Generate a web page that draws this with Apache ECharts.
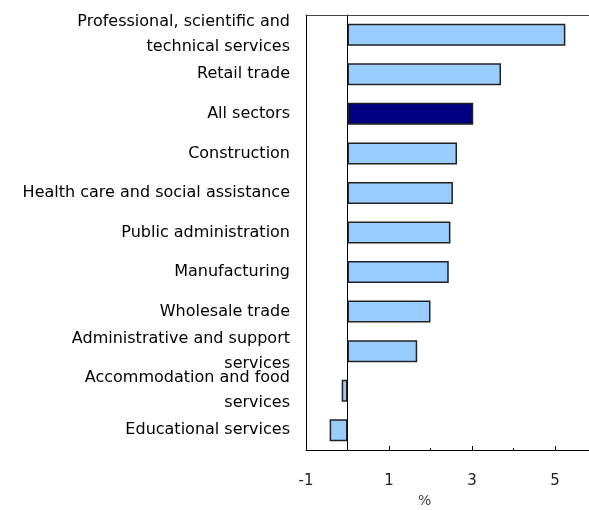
<!DOCTYPE html>
<html>
<head>
<meta charset="utf-8">
<script src="https://cdn.jsdelivr.net/npm/echarts@6/dist/echarts.min.js"></script>
<style>html,body{margin:0;padding:0;background:#fff;overflow:hidden;}#c{width:589px;height:510px;}</style>
</head>
<body>
<div id="c"></div>
<script>
var categories = [
  "Professional, scientific and\ntechnical services",
  "Retail trade",
  "All sectors",
  "Construction",
  "Health care and social assistance",
  "Public administration",
  "Manufacturing",
  "Wholesale trade",
  "Administrative and support\nservices",
  "Accommodation and food\nservices",
  "Educational services"
];
var values = [5.25, 3.7, 3.03, 2.64, 2.54, 2.48, 2.44, 2.0, 1.68, -0.14, -0.43];
var highlightCategory = "All sectors";
var axisName = "%";

var chart = echarts.init(document.getElementById('c'));
chart.setOption({
  animation: false,
  grid: { left: 306, right: 0, top: 15, bottom: 60, show: false, containLabel: false },
  xAxis: [{
    type: 'value', min: -1, max: 5.82, interval: 2,
    axisLine: { show: true, onZero: false, lineStyle: { color: '#000', width: 1 } },
    axisTick: { show: true, inside: true, length: 4, lineStyle: { color: '#000' } },
    minorTick: { show: true, splitNumber: 2, length: 2, lineStyle: { color: '#000' } },
    splitLine: { show: false },
    axisLabel: { color: '#222', fontSize: 15, fontFamily: 'DejaVu Sans', margin: 24, showMaxLabel: false,
      formatter: function (v) { return Math.round(v) === v ? String(v) : ''; } }
  }, {
    type: 'value', position: 'top', min: -1, max: 5.82,
    axisLine: { show: true, onZero: false, lineStyle: { color: '#444', width: 1 } },
    axisTick: { show: false }, axisLabel: { show: false }, splitLine: { show: false }
  }],
  yAxis: [{
    type: 'category', data: categories, inverse: true,
    axisLine: { show: true, onZero: true, lineStyle: { color: '#000', width: 1 } },
    axisTick: { show: false },
    axisLabel: { color: '#000', fontSize: 16, fontFamily: 'DejaVu Sans', margin: 16, lineHeight: 25, align: 'right' }
  }, {
    type: 'category', data: categories, inverse: true, position: 'left',
    axisLine: { show: true, onZero: false, lineStyle: { color: '#000', width: 1 } },
    axisTick: { show: false }, axisLabel: { show: false }
  }],
  graphic: [{ type: 'text', left: 418, top: 494, style: { text: axisName, fontSize: 14, fontFamily: 'DejaVu Sans', fill: '#444' } }],
  series: [{
    type: 'bar', barWidth: 22, xAxisIndex: 0, yAxisIndex: 0,
    data: values.map(function (v, i) {
      return { value: v, itemStyle: { color: categories[i] === highlightCategory ? '#000080' : '#99CCFF' } };
    }),
    itemStyle: { borderColor: '#222', borderWidth: 1.5 }
  }]
});
</script>
</body>
</html>
